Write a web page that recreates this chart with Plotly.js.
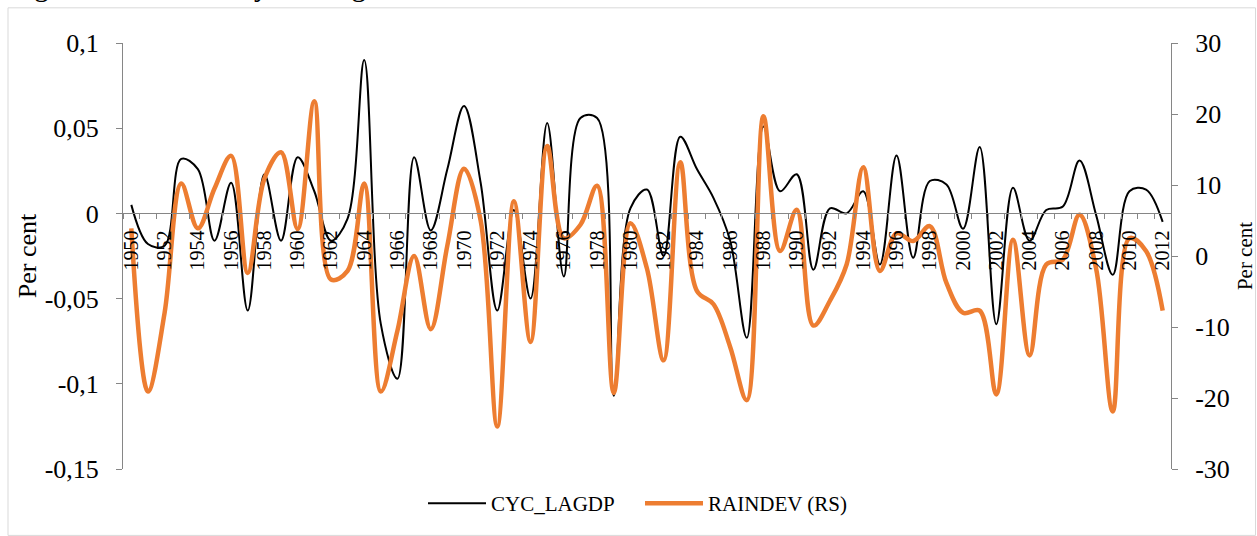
<!DOCTYPE html>
<html>
<head>
<meta charset="utf-8">
<script src="https://cdn.plot.ly/plotly-3.0.1.min.js"></script>
<style>html,body{margin:0;padding:0;background:#fff;}#chart{width:1257px;height:536px;}</style>
</head>
<body>
<div id="chart"></div>
<script>
const years = [];
for (let y = 1950; y <= 2012; y++) years.push(y);

const cycLagdp = [
  0.005, -0.018, -0.019, 0.032, 0.026, -0.016, 0.018, -0.057, 0.023, -0.016,
  0.033, 0.013, -0.016, -0.003, 0.090, -0.065, -0.097, 0.033, -0.010, 0.026,
  0.063, 0.018, -0.057, 0.002, -0.050, 0.053, -0.037, 0.056, 0.056, -0.107,
  0.003, 0.014, -0.025, 0.045, 0.026, 0.009, -0.016, -0.073, 0.051, 0.013,
  0.023, -0.033, 0.003, 0.000, 0.013, -0.030, 0.034, -0.026, 0.019, 0.017,
  -0.009, 0.039, -0.065, 0.015, -0.016, 0.002, 0.004, 0.031, -0.001, -0.036,
  0.013, 0.014, -0.005
];

const rainDev = [
  3.9, -19.1, -8.0, 10.2, 3.9, 9.5, 14.1, -2.4, 10.9, 14.6,
  3.8, 21.8, -3.3, -2.1, 10.2, -19.1, -10.5, 0.0, -10.3, 1.5,
  12.3, 5.0, -24.0, 7.7, -12.1, 15.5, 2.5, 4.4, 9.9, -19.3,
  4.6, -1.8, -14.7, 13.2, -4.9, -6.8, -12.8, -20.3, 19.7, 0.7,
  6.5, -9.8, -6.3, -1.2, 12.5, -2.1, 3.2, 2.1, 4.2, -3.8,
  -8.0, -7.7, -19.5, 2.3, -14.0, -1.2, -0.5, 5.8, -1.8, -21.9,
  2.5, 0.7, -7.7
];

const xTickVals = [];
const xTickText = [];
for (let y = 1950; y <= 2012; y += 2) { xTickVals.push(y); xTickText.push(String(y)); }

const leftTickVals = [-0.15, -0.1, -0.05, 0, 0.05, 0.1];
const leftTickText = ['-0,15', '-0,1', '-0,05', '0', '0,05', '0,1'];
const rightTickVals = [-30, -20, -10, 0, 10, 20, 30];
const rightTickText = ['-30', '-20', '-10', '0', '10', '20', '30'];

const seriesNames = ['CYC_LAGDP', 'RAINDEV (RS)'];
const captionText = 'Figure 5:  Trend in Cyclical agricultural GDP and rainfall deviation';

const FONT = '"Liberation Serif", "Times New Roman", Times, serif';
const AXIS_GRAY = '#868686';

const traces = [
  {
    x: years, y: cycLagdp, name: seriesNames[0], type: 'scatter', mode: 'lines',
    line: {color: '#000000', width: 2, shape: 'spline', smoothing: 1},
    yaxis: 'y', hoverinfo: 'skip'
  },
  {
    x: years, y: rainDev, name: seriesNames[1], type: 'scatter', mode: 'lines',
    line: {color: '#ED7D31', width: 4.5, shape: 'spline', smoothing: 1},
    yaxis: 'y2', hoverinfo: 'skip'
  }
];

const layout = {
  width: 1257, height: 536,
  margin: {l: 123, r: 86, t: 43, b: 63, pad: 0},
  paper_bgcolor: '#ffffff', plot_bgcolor: 'rgba(0,0,0,0)',
  font: {family: FONT, color: '#000000', size: 20},
  showlegend: true,
  legend: {
    orientation: 'h', x: (423 - 123) / 1048, xanchor: 'left', y: -0.081, yanchor: 'middle',
    font: {family: FONT, size: 21, color: '#000'}, bgcolor: 'rgba(0,0,0,0)',
    traceorder: 'normal', itemwidth: 58, entrywidth: 144, entrywidthmode: 'pixels'
  },
  xaxis: {
    type: 'linear', range: [1949.5, 2012.5], anchor: 'free', position: 0.6,
    showgrid: false, zeroline: false,
    showline: true, linecolor: AXIS_GRAY, linewidth: 1,
    tickmode: 'array', tickvals: xTickVals, ticktext: xTickText,
    ticks: '', tickangle: -90, ticklabelstandoff: 8,
    tickfont: {family: FONT, size: 20, color: '#000'},
    minor: {ticks: 'outside', dtick: 1, tick0: 1949.5, ticklen: 5, tickcolor: AXIS_GRAY, tickwidth: 1, showgrid: false},
    fixedrange: true
  },
  yaxis: {
    range: [-0.15, 0.1], domain: [0, 1], showgrid: false, zeroline: false,
    showline: true, linecolor: AXIS_GRAY, linewidth: 1,
    ticks: 'outside', ticklen: 6, tickcolor: AXIS_GRAY,
    tickmode: 'array', tickvals: leftTickVals, ticktext: leftTickText,
    ticklabelstandoff: 12,
    tickfont: {family: FONT, size: 26, color: '#000'},
    title: {text: 'Per cent', font: {family: FONT, size: 26, color: '#000'}, standoff: 0},
    automargin: false, fixedrange: true
  },
  yaxis2: {
    range: [-30, 30], overlaying: 'y', side: 'right', anchor: 'x',
    showgrid: false, zeroline: false,
    showline: true, linecolor: AXIS_GRAY, linewidth: 1,
    ticks: 'outside', ticklen: 6, tickcolor: AXIS_GRAY,
    tickmode: 'array', tickvals: rightTickVals, ticktext: rightTickText,
    ticklabelstandoff: 12,
    tickfont: {family: FONT, size: 26, color: '#000'},
    title: {text: 'Per cent', font: {family: FONT, size: 21, color: '#000'}, standoff: 14},
    automargin: false, fixedrange: true
  },
  shapes: [
    {type: 'rect', xref: 'paper', yref: 'paper',
     x0: (8 - 123) / 1048, x1: (1255.5 - 123) / 1048,
     y0: (473 - 540) / 430, y1: (473 - 7.5) / 430,
     line: {color: '#D9D9D9', width: 1}, fillcolor: 'rgba(0,0,0,0)', layer: 'below'}
  ],
  annotations: [
    {text: captionText, xref: 'paper', yref: 'paper',
     x: (8 - 123) / 1048, xanchor: 'left', y: (473 - 4) / 430, yanchor: 'bottom',
     showarrow: false, font: {family: FONT, size: 29, color: '#000'}}
  ]
};

Plotly.newPlot('chart', traces, layout, {staticPlot: true, displayModeBar: false});
</script>
</body>
</html>
